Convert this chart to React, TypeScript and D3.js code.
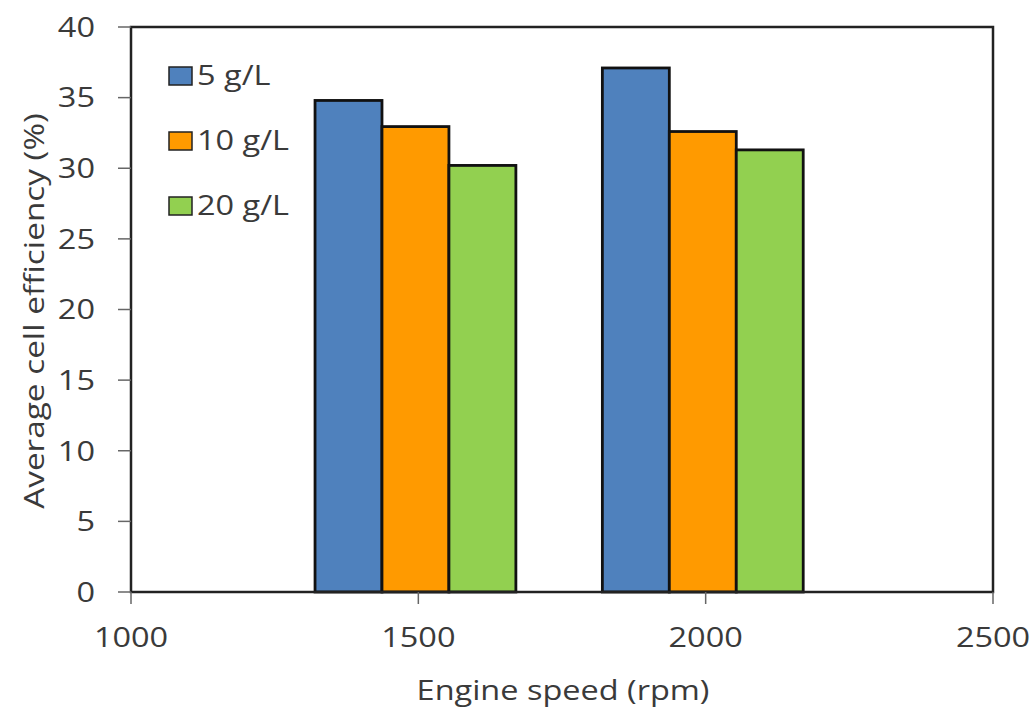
import React from "react";
import * as d3 from "d3";

const speeds = [1500, 2000];
const seriesNames = ["5 g/L", "10 g/L", "20 g/L"];
const seriesColors = ["#4f81bd", "#ff9a00", "#92d050"];
const eff5 = [34.8, 37.1];
const eff10 = [32.95, 32.6];
const eff20 = [30.2, 31.3];
const xTicks = [1000, 1500, 2000, 2500];
const yTicks = [0, 5, 10, 15, 20, 25, 30, 35, 40];

const W = 1034;
const H = 708;
const L = 131;
const R = 993;
const T = 27;
const B = 592;
const FONT = "'Open Sans', sans-serif";
const TXT = "#3a3a3a";
const SX = 1.16;

function SText(props: {
  x: number;
  y: number;
  anchor?: "start" | "middle" | "end";
  rotate?: number;
  dy?: string;
  sx?: number;
  children: React.ReactNode;
}) {
  const { x, y, anchor = "start", rotate = 0, dy, sx = SX, children } = props;
  return (
    <text
      transform={`translate(${x},${y}) rotate(${rotate}) scale(${sx},1)`}
      textAnchor={anchor}
      dy={dy}
      fontSize={28}
      fill={TXT}
    >
      {children}
    </text>
  );
}

export default function App() {
  const x = d3.scaleLinear().domain([1000, 2500]).range([L, R]);
  const y = d3.scaleLinear().domain([0, 40]).range([B, T]);
  const values = [eff5, eff10, eff20];
  const barW = 116.5; // rpm
  const offset = -5; // rpm
  return (
    <svg
      width={W}
      height={H}
      style={{ position: "absolute", left: 0, top: 0, background: "#fff" }}
      fontFamily={FONT}
    >
      <rect x={0} y={0} width={W} height={H} fill="#fff" />
      {values.map((vals, si) =>
        vals.map((v, i) => {
          const x0 = x(speeds[i] + offset + (si - 1.5) * barW);
          const x1 = x(speeds[i] + offset + (si - 0.5) * barW);
          return (
            <rect
              key={`${si}-${i}`}
              x={x0}
              y={y(v)}
              width={x1 - x0}
              height={y(0) - y(v)}
              fill={seriesColors[si]}
              stroke="#111"
              strokeWidth={2.8}
            />
          );
        })
      )}
      <rect x={L} y={T} width={R - L} height={B - T} fill="none" stroke="#222" strokeWidth={2.5} />
      {yTicks.map((t) => (
        <g key={`y${t}`}>
          <line x1={L - 13} x2={L} y1={y(t)} y2={y(t)} stroke="#666" strokeWidth={1.5} />
          <SText x={95} y={y(t)} dy="0.35em" anchor="end">
            {t}
          </SText>
        </g>
      ))}
      {xTicks.map((t) => (
        <g key={`x${t}`}>
          <line x1={x(t)} x2={x(t)} y1={B} y2={B + 12} stroke="#666" strokeWidth={1.5} />
          <SText x={x(t)} y={B + 55} anchor="middle">
            {t}
          </SText>
        </g>
      ))}
      <SText x={(L + R) / 2 + 1} y={700} anchor="middle">
        Engine speed (rpm)
      </SText>
      <SText x={44} y={311} rotate={-90} anchor="middle" sx={1.19}>
        Average cell efficiency (%)
      </SText>
      {seriesNames.map((n, i) => (
        <g key={n}>
          <rect
            x={169}
            y={85 + i * 65 - 18}
            width={23}
            height={18}
            fill={seriesColors[i]}
            stroke="#222"
            strokeWidth={1.5}
          />
          <SText x={197} y={85 + i * 65}>
            {n}
          </SText>
        </g>
      ))}
    </svg>
  );
}
